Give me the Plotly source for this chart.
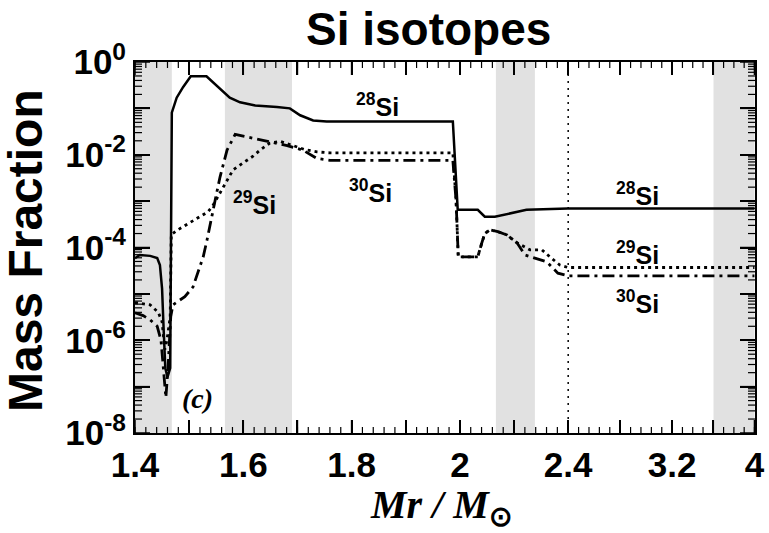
import numpy as np
import plotly.graph_objects as go

# ---------------- data ----------------
mr_si28 = [1.400, 1.409, 1.428, 1.441, 1.446, 1.450, 1.453, 1.456, 1.460, 1.465,
           1.468, 1.477, 1.489, 1.503, 1.532, 1.551, 1.575, 1.594, 1.622, 1.662,
           1.686, 1.705, 1.729, 1.754, 1.987, 1.996, 2.066, 2.092, 2.129, 2.246,
           2.399, 3.200, 4.000]
x_si28 = [5.9e-5, 6.9e-5, 6.6e-5, 5.9e-5, 4.2e-5, 1.3e-5, 1.6e-6, 2.5e-7, 1.6e-7, 2.5e-7,
          8.1e-2, 0.17, 0.29, 0.49, 0.49, 0.31, 0.17, 0.135, 0.115, 0.107,
          0.100, 0.071, 0.055, 0.052, 0.052, 6.5e-4, 6.5e-4, 4.6e-4, 4.6e-4, 6.5e-4,
          6.9e-4, 6.9e-4, 6.9e-4]

mr_si29 = [1.400, 1.428, 1.443, 1.450, 1.455, 1.459, 1.465, 1.467, 1.479, 1.515,
           1.535, 1.544, 1.561, 1.581, 1.599, 1.618, 1.631, 1.649, 1.668, 1.692,
           1.714, 1.736, 1.760, 1.987, 1.993, 1.997, 2.066, 2.081, 2.092, 2.111,
           2.140, 2.174, 2.211, 2.259, 2.303, 2.332, 2.369, 2.399, 3.200, 4.000]
x_si29 = [6.5e-6, 5.8e-6, 4.0e-6, 2.5e-6, 6.3e-7, 1.0e-6, 3.2e-6, 1.9e-4, 2.4e-4, 4.3e-4,
          5.9e-4, 8.1e-4, 1.8e-3, 4.7e-3, 6.6e-3, 9.3e-3, 1.26e-2, 1.78e-2, 1.95e-2, 1.58e-2,
          1.29e-2, 1.15e-2, 1.10e-2, 1.10e-2, 1.0e-3, 6.3e-5, 6.3e-5, 1.26e-4, 2.0e-4, 2.4e-4,
          2.2e-4, 1.86e-4, 1.26e-4, 8.9e-5, 8.9e-5, 6.3e-5, 4.2e-5, 3.7e-5, 3.7e-5, 3.7e-5]

mr_si30 = [1.400, 1.415, 1.428, 1.441, 1.448, 1.454, 1.457, 1.461, 1.466, 1.470,
           1.492, 1.507, 1.515, 1.526, 1.533, 1.540, 1.550, 1.557, 1.570, 1.585,
           1.618, 1.649, 1.681, 1.710, 1.736, 1.760, 1.987, 1.993, 1.997, 2.066,
           2.081, 2.092, 2.111, 2.140, 2.174, 2.211, 2.240, 2.295, 2.321, 2.362,
           2.399, 3.200, 4.000]
x_si30 = [3.9e-6, 3.4e-6, 2.75e-6, 2.0e-6, 1.0e-6, 1.6e-7, 5.8e-8, 2.5e-7, 3.2e-6, 5.8e-6,
          8.7e-6, 1.4e-5, 2.6e-5, 6.3e-5, 1.45e-4, 3.9e-4, 1.35e-3, 3.3e-3, 1.26e-2, 2.75e-2,
          2.24e-2, 1.9e-2, 1.58e-2, 1.26e-2, 8.3e-3, 7.6e-3, 7.6e-3, 1.0e-3, 6.3e-5, 6.3e-5,
          1.26e-4, 2.0e-4, 2.4e-4, 2.2e-4, 1.86e-4, 1.26e-4, 6.9e-5, 5.6e-5, 4.9e-5, 2.8e-5,
          2.45e-5, 2.45e-5, 2.45e-5]

# shaded convective zones (Mr ranges)
band_starts = [1.400, 1.566, 2.133, 3.602]
band_ends = [1.468, 1.690, 2.277, 4.000]
vline_mr = 2.4

tick_mr = [1.4, 1.6, 1.8, 2.0, 2.4, 3.2, 4.0]
tick_labels = ["1.4", "1.6", "1.8", "2", "2.4", "3.2", "4"]
unlabeled_major_mr = [1.5, 1.7, 1.9, 2.2, 2.8, 3.6]

Y_MIN, Y_MAX = 1e-8, 1.0
LOG_RANGE = [-8, 0]

# ---------------- piecewise x-axis scale ----------------
MR_BREAKS = [1.4, 2.0, 2.4, 3.2, 4.0]
U_BREAKS = [0.0, 3.0, 4.0, 4.96, 5.72]
U_RANGE = [0.0, 5.725]

W, H = 769, 533
ML, MR, MT, MB = 135, 14, 62, 100
PX_PER_U = (W - ML - MR) / (U_RANGE[1] - U_RANGE[0])
PX_PER_DEC = (H - MT - MB) / (LOG_RANGE[1] - LOG_RANGE[0])


def to_u(mr):
    return [float(v) for v in np.interp(np.asarray(mr, dtype=float), MR_BREAKS, U_BREAKS)]


minor_mr = np.concatenate([
    np.arange(1.4, 2.0, 0.02),
    np.arange(2.0, 2.4, 0.04),
    np.arange(2.4, 3.2, 0.08),
    np.arange(3.2, 4.0001, 0.1),
])

fig = go.Figure()

# shaded bands as filled traces
for a, b in zip(band_starts, band_ends):
    ua, ub = to_u([a, b])
    fig.add_trace(go.Scatter(x=[ua, ua, ub, ub, ua], y=[Y_MIN, Y_MAX, Y_MAX, Y_MIN, Y_MIN],
                             mode="lines", fill="toself", fillcolor="#e1e1e1",
                             line=dict(width=0, color="#e1e1e1"), hoverinfo="skip"))

# dotted vertical marker at 2.4
uv = to_u([vline_mr])[0]
fig.add_trace(go.Scatter(x=[uv, uv], y=[Y_MIN, Y_MAX], mode="lines",
                         line=dict(color="black", width=1.5, dash="2px,5px"), hoverinfo="skip"))

fig.add_trace(go.Scatter(x=to_u(mr_si28), y=x_si28, mode="lines", name="28Si",
                         line=dict(color="black", width=2.5)))
fig.add_trace(go.Scatter(x=to_u(mr_si29), y=x_si29, mode="lines", name="29Si",
                         line=dict(color="black", width=2.8, dash="3px,4px")))
fig.add_trace(go.Scatter(x=to_u(mr_si30), y=x_si30, mode="lines", name="30Si",
                         line=dict(color="black", width=2.8, dash="12px,5px,3px,5px")))


# ---------------- inside tick marks on all four sides (from the tick lists) ----------------
def tick_segments(xvals_u, yvals, xlen_px, ylen_px):
    xs, ys = [], []
    dy = xlen_px / PX_PER_DEC
    for u in xvals_u:
        xs += [u, u, None, u, u, None]
        ys += [Y_MIN, Y_MIN * 10 ** dy, None, Y_MAX, Y_MAX / 10 ** dy, None]
    du = ylen_px / PX_PER_U
    for v in yvals:
        xs += [U_RANGE[0], U_RANGE[0] + du, None, U_RANGE[1], U_RANGE[1] - du, None]
        ys += [v, v, None, v, v, None]
    return xs, ys


y_major = [10.0 ** (-k) for k in range(0, 9)]
y_minor = [m * 10.0 ** (-k) for k in range(1, 9) for m in range(2, 10)]
x_major_u = sorted(to_u(tick_mr) + to_u(unlabeled_major_mr))
x_minor_u = to_u(minor_mr)

mx, my = tick_segments(x_major_u, y_major, 13, 15)
fig.add_trace(go.Scatter(x=mx, y=my, mode="lines", line=dict(color="black", width=1.5),
                         hoverinfo="skip", connectgaps=False))
nx, ny = tick_segments(x_minor_u, y_minor, 6, 7)
fig.add_trace(go.Scatter(x=nx, y=ny, mode="lines", line=dict(color="black", width=1.2),
                         hoverinfo="skip", connectgaps=False))

FONT = "Liberation Sans, Arial, sans-serif"
SERIF = "Liberation Serif, Times New Roman, serif"

pairs = sorted(list(zip(to_u(tick_mr), ["<b>%s</b>" % t for t in tick_labels]))
               + list(zip(to_u(unlabeled_major_mr), [""] * len(unlabeled_major_mr))))
x_tickvals = [p[0] for p in pairs]
x_ticktext = [p[1] for p in pairs]

y_ticktext = ["<b>10<sup>%s</sup></b>" % (str(-k) if k else "0") if k % 2 == 0 else ""
              for k in range(0, 9)]

fig.update_layout(
    width=W, height=H,
    margin=dict(l=ML, r=MR, t=MT, b=MB),
    plot_bgcolor="white",
    showlegend=False,
    xaxis=dict(range=U_RANGE, showgrid=False, zeroline=False, automargin=False,
               showline=True, linecolor="black", linewidth=2, mirror="allticks",
               ticks="inside", ticklen=13, tickwidth=1.5, tickcolor="black",
               tickmode="array", tickvals=x_tickvals, ticktext=x_ticktext,
               tickfont=dict(size=35, family=FONT, color="black")),
    yaxis=dict(type="log", range=LOG_RANGE, showgrid=False, zeroline=False, automargin=False,
               showline=True, linecolor="black", linewidth=2, mirror="allticks",
               ticks="inside", ticklen=15, tickwidth=1.5, tickcolor="black",
               tickmode="array", tickvals=y_major, ticktext=y_ticktext,
               tickfont=dict(size=35, family=FONT, color="black")),
)


def px_to_paper(px, py):
    return (px - ML) / float(W - ML - MR), (H - MB - py) / float(H - MT - MB)


annots = [
    ("<b>Si isotopes</b>", 428, 29, 46, FONT, 0),
    ("<b>Mass Fraction</b>", 25, 251, 48, FONT, -90),
    ("<b><i>Mr / M</i><sub>⊙</sub></b>", 441, 507, 40, SERIF, 0),
    ("<b><i>(c)</i></b>", 197, 398, 28, SERIF, 0),
    ("<b><sup>28</sup>Si</b>", 377, 105, 25, FONT, 0),
    ("<b><sup>29</sup>Si</b>", 254, 203, 25, FONT, 0),
    ("<b><sup>30</sup>Si</b>", 370, 191, 25, FONT, 0),
    ("<b><sup>28</sup>Si</b>", 637, 194, 25, FONT, 0),
    ("<b><sup>29</sup>Si</b>", 637, 253, 25, FONT, 0),
    ("<b><sup>30</sup>Si</b>", 637, 302, 25, FONT, 0),
]
for text, px, py, size, fam, ang in annots:
    xp, yp = px_to_paper(px, py)
    fig.add_annotation(text=text, x=xp, y=yp, xref="paper", yref="paper",
                       xanchor="center", yanchor="middle", showarrow=False,
                       textangle=ang, font=dict(size=size, family=fam, color="black"))

fig.write_html("out.html")
